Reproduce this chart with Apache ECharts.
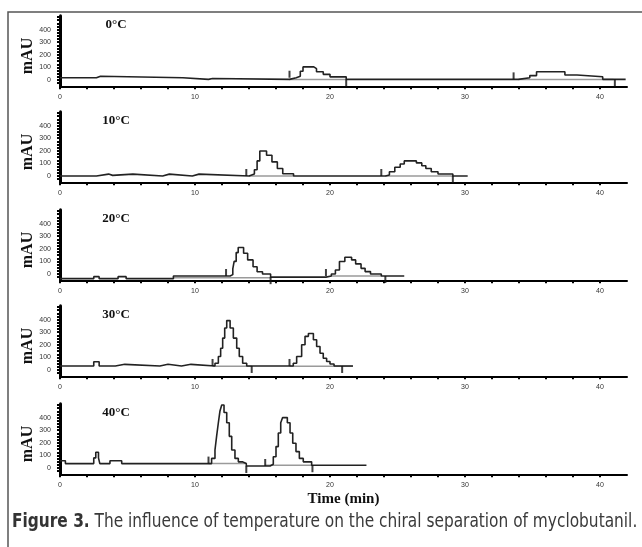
<!DOCTYPE html>
<html><head><meta charset="utf-8">
<script src="https://cdn.jsdelivr.net/npm/echarts@6/dist/echarts.min.js"></script>
<style>html,body{margin:0;padding:0;background:#fff}#c{width:642px;height:547px}</style>
</head><body><div id="c"></div>
<script>
// ---- data ----
const temps = ['0°C', '10°C', '20°C', '30°C', '40°C'];
const xTickLabels = [0, 10, 20, 30, 40];
const xMinorTicks = [0,2,4,6,8,10,12,14,16,18,20,22,24,26,28,30,32,34,36,38,40];
const yTickLabels = [0, 100, 200, 300, 400];
const yMinorTicks = [-25,0,25,50,75,100,125,150,175,200,225,250,275,300,325,350,375,400,425,450,475,500];

const trace0 = [[0,18],[2.7,30],[3.0,18],[9.1,5],[11.0,12],[11.3,5],[17.0,18],[17.5,30],[17.8,70],[18.0,104],[18.8,90],[19.0,65],[19.5,45],[20.0,25],[21.2,5],[33.95,18],[34.8,35],[35.3,65],[37.4,40],[38.3,26],[40.2,5],[41.9,5]];
const trace1 = [[0,0],[2.7,15],[3.6,5],[3.9,15],[5.4,0],[7.6,15],[8.1,0],[9.8,15],[10.3,0],[14.0,15],[14.4,50],[14.6,120],[14.8,198],[15.3,165],[15.7,112],[16.1,60],[16.5,18],[17.3,0],[24.1,8],[24.4,34],[24.8,70],[25.2,95],[25.5,120],[26.4,104],[26.8,81],[27.1,60],[27.5,34],[28.0,16],[29.1,0],[30.2,0]];
const trace2 = [[0,-37],[2.5,-21],[2.9,-37],[4.3,-21],[4.9,-37],[8.4,-16],[12.6,-5],[12.8,40],[12.9,100],[13.05,170],[13.2,210],[13.6,165],[13.9,112],[14.3,58],[14.6,18],[15.0,0],[15.6,-25],[19.7,-16],[20.1,0],[20.4,32],[20.7,99],[21.1,133],[21.6,112],[21.9,80],[22.3,45],[22.6,19],[23.0,0],[23.8,-16],[25.5,-16]];
const trace3 = [[0,32],[2.5,66],[2.9,32],[4.1,45],[4.8,32],[7.4,45],[8.0,32],[9.0,45],[9.7,32],[11.48,53],[11.73,107],[11.9,173],[12.05,253],[12.2,333],[12.35,392],[12.6,333],[12.84,253],[13.09,173],[13.28,107],[13.53,53],[13.83,32],[17.28,53],[17.53,107],[17.9,200],[18.15,267],[18.4,290],[18.77,240],[19.01,187],[19.26,133],[19.5,93],[19.75,67],[20.0,48],[20.3,32],[21.7,32]];
const trace4 = [[0,57],[0.4,35],[2.5,80],[2.65,125],[2.85,80],[2.95,35],[3.7,57],[4.57,35],[11.23,76],[11.48,143],[11.6,251],[11.73,359],[11.85,453],[11.98,500],[12.15,440],[12.35,359],[12.54,251],[12.72,143],[12.96,76],[13.21,49],[13.5,35],[13.8,16],[15.56,30],[15.8,89],[16.0,170],[16.17,278],[16.35,359],[16.49,400],[16.84,359],[17.04,278],[17.24,197],[17.48,130],[17.73,76],[18.02,49],[18.64,22],[22.7,22]];

// integration baselines (grey) [[t0,y0],[t1,y1]]
const baselines0 = [[[17.0,3],[21.2,3]], [[33.95,3],[41.0,3]]];
const baselines1 = [[[14.0,0],[17.3,0]], [[24.1,0],[29.1,0]]];
const baselines2 = [[[8.4,-30],[15.6,-30]], [[20.1,-16],[23.8,-16]]];
const baselines3 = [[[11.3,30],[14.2,30]], [[17.0,30],[21.7,30]]];
const baselines4 = [[[11.0,35],[13.8,35]], [[15.2,22],[18.7,22]]];

// integration event markers [t, y, direction (1 up, -1 down)]
const marks0 = [[17.0,18,1],[21.2,5,-1],[33.6,5,1],[41.1,5,-1]];
const marks1 = [[13.8,0,1],[23.8,0,1],[29.1,0,-1]];
const marks2 = [[12.3,-16,1],[15.6,-25,-1],[19.7,-16,1],[24.1,-16,-1]];
const marks3 = [[11.3,32,1],[14.2,32,-1],[17.0,32,1],[20.9,32,-1]];
const marks4 = [[11.0,35,1],[13.8,16,-1],[15.2,16,1],[18.7,22,-1]];

const traces = [trace0, trace1, trace2, trace3, trace4];
const baselines = [baselines0, baselines1, baselines2, baselines3, baselines4];
const marks = [marks0, marks1, marks2, marks3, marks4];

// hold each value until the next sample time (detector staircase)
function holdSteps(arr) {
  const out = [];
  for (let k = 0; k < arr.length; k++) {
    out.push(arr[k]);
    if (k + 1 < arr.length) out.push([arr[k + 1][0], arr[k][1]]);
  }
  return out;
}

// ---- layout ----
const zeroPx = [80, 176, 274, 370, 468];
const pxPerUnit = 0.126;
const yMin = -50, yMax = 510;

const grids = [], xAxes = [], yAxes = [], series = [], graphics = [];
const serif = '"Liberation Serif","DejaVu Serif",serif';
const sans = '"Liberation Sans",Arial,sans-serif';
for (let i = 0; i < 5; i++) {
  const top = zeroPx[i] - yMax * pxPerUnit;
  grids.push({left: 60, width: 567, top: top, height: (yMax - yMin) * pxPerUnit});
  xAxes.push({
    type: 'value', gridIndex: i, min: 0, max: 42, position: 'bottom',
    axisLine: {onZero: false, lineStyle: {color: '#000', width: 2}},
    axisTick: {customValues: xMinorTicks, length: 3, lineStyle: {color: '#000', width: 2}},
    axisLabel: {customValues: xTickLabels, fontSize: 7, color: '#333', margin: 7, fontFamily: sans},
    splitLine: {show: false},
    name: i === 4 ? 'Time (min)' : '', nameLocation: 'middle', nameGap: 17,
    nameTextStyle: {fontFamily: serif, fontWeight: 'bold', fontSize: 15, color: '#111'}
  });
  yAxes.push({
    type: 'value', gridIndex: i, min: yMin, max: yMax,
    axisLine: {show: true, lineStyle: {color: '#000', width: 3}},
    axisTick: {customValues: yMinorTicks, length: 3, lineStyle: {color: '#000', width: 2}},
    axisLabel: {customValues: yTickLabels, fontSize: 7, color: '#333', margin: 9, fontFamily: sans},
    splitLine: {show: false}
  });
  baselines[i].forEach(seg => series.push({
    type: 'line', xAxisIndex: i, yAxisIndex: i, data: seg, symbol: 'none',
    lineStyle: {color: '#9a9a9a', width: 1.5}, silent: true, z: 2
  }));
  series.push({
    type: 'line', xAxisIndex: i, yAxisIndex: i, data: holdSteps(traces[i]), symbol: 'none',
    lineStyle: {color: '#222', width: 1.6}, silent: true, z: 3
  });
  series.push({
    type: 'scatter', xAxisIndex: i, yAxisIndex: i, symbol: 'rect', symbolSize: [2, 7], symbolOffset: [0, -3.5],
    data: marks[i].filter(m => m[2] > 0).map(m => [m[0], m[1]]), itemStyle: {color: '#111'}, silent: true, z: 4
  });
  series.push({
    type: 'scatter', xAxisIndex: i, yAxisIndex: i, symbol: 'rect', symbolSize: [2, 7], symbolOffset: [0, 3.5],
    data: marks[i].filter(m => m[2] < 0).map(m => [m[0], m[1]]), itemStyle: {color: '#111'}, silent: true, z: 4
  });
  graphics.push({
    type: 'text', x: 116, y: zeroPx[i] - 55,
    style: {text: temps[i], font: 'bold 13px ' + serif, fill: '#111', textAlign: 'center', textVerticalAlign: 'middle'}
  });
  graphics.push({
    type: 'text', x: 28, y: zeroPx[i] - 24, rotation: Math.PI / 2,
    style: {text: 'mAU', font: 'bold 16px ' + serif, fill: '#111', textAlign: 'center', textVerticalAlign: 'middle'}
  });
}
graphics.push({
  type: 'polyline', shape: {points: [[8, 547], [8, 12], [642, 12]]},
  style: {stroke: '#555', lineWidth: 1.5, fill: null}
});
const capFont = '"DejaVu Sans Condensed","Liberation Sans Narrow",sans-serif';
graphics.push({
  type: 'text', x: 12, y: 522, scaleX: 0.9,
  style: {
    text: '{b|Figure 3.} The influence of temperature on the chiral separation of myclobutanil.',
    font: '19px ' + capFont, fill: '#3a3a3a', textVerticalAlign: 'middle',
    rich: {b: {font: 'bold 19px ' + capFont, fill: '#333'}}
  }
});

const chart = echarts.init(document.getElementById('c'), null, {renderer: 'canvas'});
chart.setOption({
  animation: false, backgroundColor: '#fff',
  grid: grids, xAxis: xAxes, yAxis: yAxes, series: series, graphic: graphics
});
</script></body></html>
